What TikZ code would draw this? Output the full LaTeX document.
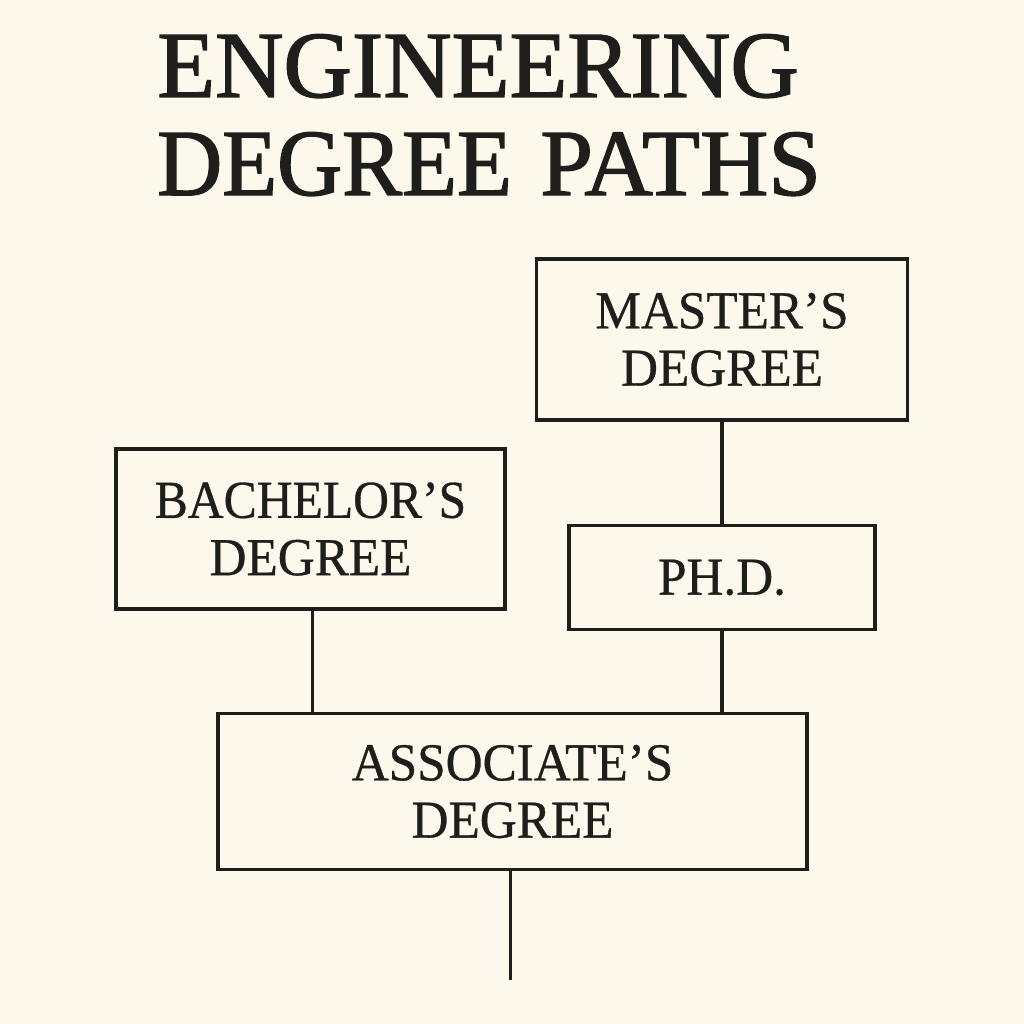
\documentclass[tikz,border=0pt]{standalone}
\usepackage{fontspec}
\setmainfont{Liberation Serif}
\newfontfamily\titlefont[WordSpace=1.2, FakeBold=1.5]{Liberation Serif}
\newfontfamily\boxfont[FakeStretch=0.96, FakeBold=0.6]{Liberation Serif}
\usepackage{tikz}
\definecolor{paper}{HTML}{FDF8EC}
\definecolor{ink}{HTML}{1E1E1C}
\tikzset{
	degreebox/.style={draw=ink, line width=2.6pt, align=center, text=ink, inner sep=0pt, font=\boxfont\fontsize{40}{43}\selectfont},
	link/.style={draw=ink, line width=2.6pt},
	heading/.style={anchor=base west, text=ink, font=\titlefont\fontsize{71}{71}\selectfont, inner sep=0pt}
}
% one pixel of the reference is 0.75pt
\begin{document}
\begin{tikzpicture}[x=0.75pt, y=-0.75pt]
\fill[paper] (0, 0) rectangle (1024, 1024);
\useasboundingbox (0, 0) rectangle (1024, 1024);

\node[heading] (title1) at (157, 97) {ENGINEERING};
\node[heading] (title2) at (157, 195) {{\addfontfeature{FakeStretch=0.95}DEGREE} PATHS};

\node[degreebox, minimum width=278.5pt, minimum height=121pt] (masters) at (722, 339.5) {MASTER’S\\DEGREE};
\node[degreebox, minimum width=229.5pt, minimum height=78pt] (phd) at (722, 577.5) {PH.D.};
\node[degreebox, minimum width=291.5pt, minimum height=120pt] (bachelors) at (310.5, 529) {{\addfontfeature{FakeStretch=0.93}BACHELOR’S}\\DEGREE};
\node[degreebox, minimum width=441.5pt, minimum height=117pt] (associates) at (512.5, 791.5) {ASSOCIATE’S\\DEGREE};
\coordinate (start) at (510.5, 980);
\coordinate (bachelorfoot) at (312.5, 609);

\draw[link] (masters.south) -- (phd.north);
\draw[link] (phd.south) -- (phd.south |- associates.north);
\draw[link] (bachelorfoot) -- (bachelorfoot |- associates.north);
\draw[link] (associates.south -| start) -- (start);
\end{tikzpicture}
\end{document}
